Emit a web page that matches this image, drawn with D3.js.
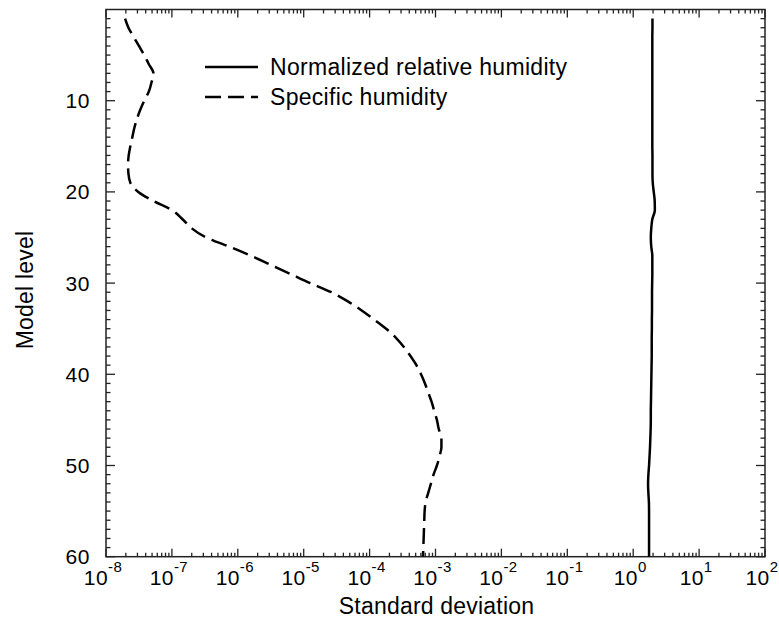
<!DOCTYPE html>
<html>
<head>
<meta charset="utf-8">
<script src="https://cdn.jsdelivr.net/npm/d3@7"></script>
<style>
  html, body { margin: 0; padding: 0; background: #fff; }
  svg { display: block; }
  text { font-family: "Liberation Sans", Arial, Helvetica, sans-serif; fill: #000; }
</style>
</head>
<body>
<svg id="chart" width="779" height="620"></svg>
<script>
// Model levels 1..60 (top of atmosphere to surface)
const levels = d3.range(1, 61);

// Standard deviation of normalized relative humidity per level
const rhStd = [
  1.96, 1.96, 1.95, 1.95, 1.95, 1.95, 1.95, 1.95, 1.95, 1.95,
  1.95, 1.95, 1.95, 1.95, 1.95, 1.96, 1.96, 1.96, 1.98, 2.05,
  2.12, 2.13, 1.95, 1.88, 1.85, 1.88, 1.95, 1.95, 1.95, 1.94,
  1.93, 1.93, 1.93, 1.92, 1.92, 1.91, 1.91, 1.91, 1.90, 1.89,
  1.88, 1.87, 1.86, 1.85, 1.85, 1.84, 1.82, 1.80, 1.77, 1.74,
  1.70, 1.68, 1.70, 1.73, 1.74, 1.74, 1.74, 1.74, 1.74, 1.74
];

// Standard deviation of specific humidity per level
const qStd = [
  1.95e-8, 2.19e-8, 2.63e-8, 3.16e-8, 3.80e-8, 4.47e-8, 5.25e-8, 4.90e-8, 4.47e-8, 3.80e-8,
  3.31e-8, 2.95e-8, 2.69e-8, 2.51e-8, 2.34e-8, 2.21e-8, 2.16e-8, 2.19e-8, 2.34e-8, 3.09e-8,
  5.25e-8, 1.00e-7, 1.45e-7, 2.00e-7, 3.31e-7, 7.41e-7, 1.58e-6, 3.16e-6, 6.31e-6, 1.26e-5,
  2.63e-5, 4.68e-5, 7.59e-5, 1.17e-4, 1.78e-4, 2.51e-4, 3.31e-4, 4.17e-4, 5.13e-4, 6.03e-4,
  6.92e-4, 7.76e-4, 8.71e-4, 9.55e-4, 1.05e-3, 1.12e-3, 1.23e-3, 1.23e-3, 1.15e-3, 1.05e-3,
  9.33e-4, 8.51e-4, 7.76e-4, 7.08e-4, 6.84e-4, 6.76e-4, 6.68e-4, 6.61e-4, 6.53e-4, 6.46e-4
];

const xExponents = d3.range(-8, 3);          // 10^-8 .. 10^2
const yTickLabels = [10, 20, 30, 40, 50, 60];
const seriesNames = ["Normalized relative humidity", "Specific humidity"];

const svg = d3.select("#chart");
const plotLeft = 106, plotRight = 765, plotTop = 9.5, plotBottom = 556.7;

const x = d3.scaleLog().domain([1e-8, 1e2]).range([plotLeft, plotRight]);
const y = d3.scaleLinear().domain([0, 60]).range([plotTop, plotBottom]);

const frameColor = "#222";

// Tick positions on the log axis: majors at decades, minors at 2..9
const majorX = xExponents.map(e => Math.pow(10, e));
const minorX = [];
xExponents.slice(0, -1).forEach(e => {
  for (let m = 2; m <= 9; m++) minorX.push(m * Math.pow(10, e));
});
const majorY = yTickLabels;
const minorY = d3.range(1, 60).filter(v => v % 10 !== 0);

const ticks = svg.append("g").attr("stroke", frameColor).attr("stroke-width", 1.3);
const majLen = 8, minLen = 4;

// Bottom and top ticks (pointing inward)
[[majorX, majLen], [minorX, minLen]].forEach(([vals, len]) => {
  vals.forEach(v => {
    const px = x(v);
    ticks.append("line").attr("x1", px).attr("x2", px).attr("y1", plotBottom).attr("y2", plotBottom - len);
    ticks.append("line").attr("x1", px).attr("x2", px).attr("y1", plotTop).attr("y2", plotTop + len);
  });
});
// Left and right ticks (pointing inward)
[[majorY, 9], [minorY, minLen + 0.5]].forEach(([vals, len]) => {
  vals.forEach(v => {
    const py = y(v);
    ticks.append("line").attr("y1", py).attr("y2", py).attr("x1", plotLeft).attr("x2", plotLeft + len);
    ticks.append("line").attr("y1", py).attr("y2", py).attr("x1", plotRight).attr("x2", plotRight - len);
  });
});

// Plot frame
svg.append("rect")
  .attr("x", plotLeft).attr("y", plotTop)
  .attr("width", plotRight - plotLeft).attr("height", plotBottom - plotTop)
  .attr("fill", "none").attr("stroke", frameColor).attr("stroke-width", 1.5);

// X tick labels: 10 with superscript exponent
const xl = svg.append("g");
xExponents.forEach(e => {
  const t = xl.append("text")
    .attr("x", x(Math.pow(10, e)) - 3)
    .attr("y", 584.5)
    .attr("text-anchor", "middle")
    .style("font-size", "21px")
    .style("letter-spacing", "0.4px");
  t.append("tspan").text("10");
  t.append("tspan").attr("dy", -13).style("font-size", "15px").text(String(e));
});

// Y tick labels
svg.append("g").selectAll("text").data(yTickLabels).join("text")
  .attr("x", 90).attr("y", d => y(d) + 7.5)
  .attr("text-anchor", "end")
  .style("font-size", "21px")
  .style("letter-spacing", "0.6px")
  .text(d => d);

// Axis titles
svg.append("text")
  .attr("x", (plotLeft + plotRight) / 2 + 1).attr("y", 614)
  .attr("text-anchor", "middle")
  .style("font-size", "23px")
  .style("letter-spacing", "0.2px")
  .text("Standard deviation");
svg.append("text")
  .attr("transform", "translate(33,290) rotate(-90)")
  .attr("text-anchor", "middle")
  .style("font-size", "23px")
  .style("letter-spacing", "0.2px")
  .text("Model level");

// Profile lines (value along x, level along y)
const line = d3.line()
  .x(d => x(d[1]))
  .y(d => y(d[0]))
  .curve(d3.curveMonotoneY);

svg.append("clipPath").attr("id", "plotClip")
  .append("rect").attr("x", plotLeft).attr("y", plotTop)
  .attr("width", plotRight - plotLeft).attr("height", plotBottom - plotTop);

const plot = svg.append("g").attr("clip-path", "url(#plotClip)");
plot.append("path")
  .datum(levels.map((l, i) => [l, rhStd[i]]))
  .attr("d", line)
  .attr("fill", "none").attr("stroke", "#000").attr("stroke-width", 2.5);
plot.append("path")
  .datum(levels.map((l, i) => [l, qStd[i]]))
  .attr("d", line)
  .attr("fill", "none").attr("stroke", "#000").attr("stroke-width", 2.5)
  .attr("stroke-dasharray", "16,7");

// Legend
const legend = svg.append("g");
const legendRows = [
  { name: seriesNames[0], y: 67, dash: null },
  { name: seriesNames[1], y: 97, dash: "16,7" }
];
legendRows.forEach(r => {
  legend.append("line")
    .attr("x1", 205).attr("x2", 258).attr("y1", r.y).attr("y2", r.y)
    .attr("stroke", "#000").attr("stroke-width", 2.5)
    .attr("stroke-dasharray", r.dash);
  legend.append("text")
    .attr("x", 270).attr("y", r.y + 8)
    .style("font-size", "23px")
    .style("letter-spacing", "0.3px")
    .text(r.name);
});
</script>
</body>
</html>
